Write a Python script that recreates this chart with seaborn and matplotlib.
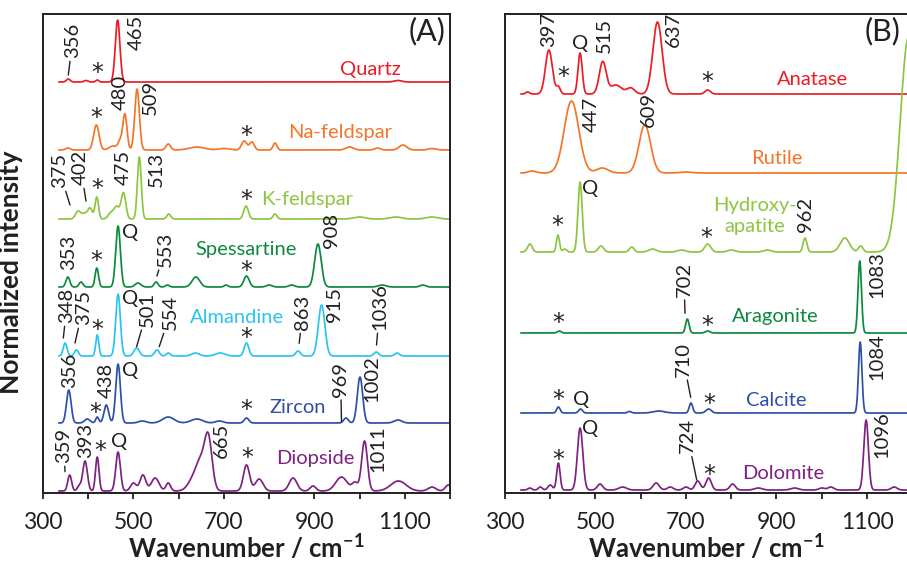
import numpy as np
import pandas as pd
import matplotlib.pyplot as plt
import seaborn as sns
from matplotlib.ticker import MultipleLocator, FixedLocator

# peak tables: (position / cm-1, height, fwhm)
quartz_peaks = [(356, 3, 10), (395, 1.5, 10), (420, 2, 8), (465, 62, 12), (1085, 1.5, 20)]
na_feldspar_peaks = [(355, 2, 12), (418, 25, 14), (455, 4, 20), (470, 8, 10), (481, 36, 11),
                     (508, 61, 12), (577, 6, 12), (640, 3, 40), (700, 1.5, 30), (745, 9, 14),
                     (762, 8, 12), (813, 7, 10), (978, 3, 20), (1040, 2, 15), (1096, 5, 20),
                     (1160, 1.5, 20)]
k_feldspar_peaks = [(378, 8, 14), (392, 5, 12), (404, 11, 12), (419, 22, 9), (450, 6, 14),
                    (463, 12, 14), (478, 26, 12), (513, 62, 10), (578, 5, 10), (749, 13, 12),
                    (813, 5, 10), (1000, 2, 30), (1080, 2, 30), (1160, 2, 30)]
spessartine_peaks = [(355, 10, 10), (384, 5, 10), (419, 19, 9), (466, 61, 12), (510, 4, 15),
                     (550, 5, 10), (575, 2, 10), (638, 10, 20), (705, 2, 10), (750, 11, 14),
                     (800, 2, 15), (850, 2, 15), (908, 43, 17), (1050, 2, 20), (1140, 2, 15)]
almandine_peaks = [(349, 13, 10), (374, 6, 10), (420, 21, 8), (466, 62, 12), (507, 8, 14),
                   (552, 6, 12), (577, 3, 10), (637, 3, 20), (692, 3, 25), (750, 13, 12),
                   (864, 5, 12), (916, 51, 17), (1037, 4, 12), (1083, 3, 12)]
zircon_peaks = [(357, 33, 12), (398, 4, 14), (420, 6, 8), (440, 18, 12), (466, 59, 12),
                (520, 2, 20), (577, 6, 30), (640, 4, 30), (690, 2, 20), (750, 5, 12),
                (970, 5, 12), (1001, 46, 14), (1085, 3, 20)]
diopside_peaks = [(359, 16, 10), (380, 5, 10), (393, 30, 12), (420, 34, 9), (466, 39, 12),
                  (500, 8, 15), (521, 16, 15), (548, 13, 20), (577, 8, 12), (636, 15, 30),
                  (648, 18, 20), (665, 55, 20), (750, 26, 16), (778, 12, 20), (853, 13, 20),
                  (897, 5, 15), (960, 14, 30), (990, 8, 15), (1011, 50, 15), (1086, 10, 40),
                  (1160, 4, 20), (1196, 6, 15)]

anatase_peaks = [(350, 2, 10), (397, 44, 18), (418, 7, 10), (466, 41, 11), (516, 32, 18),
                 (545, 9, 30), (578, 6, 20), (637, 72, 24), (748, 4, 14)]
rutile_peaks = [(360, 2, 20), (447, 72, 38), (515, 5, 30), (609, 48, 30), (700, 1, 30)]
hydroxyapatite_peaks = [(355, 8, 12), (417, 17, 8), (432, 3, 10), (466, 70, 11), (512, 6, 14),
                        (580, 5, 12), (626, 3, 20), (690, 2, 20), (748, 8, 16), (800, 2, 20),
                        (880, 2, 20), (963, 14, 10), (1051, 14, 24), (1086, 6, 12),
                        (1192, 215, 44)]
aragonite_peaks = [(420, 2, 10), (703, 14, 9), (748, 2, 12), (1084, 72, 9)]
calcite_peaks = [(418, 6, 9), (467, 4, 10), (575, 1.5, 10), (640, 2, 30), (711, 10, 9),
                 (750, 4, 14), (1085, 71, 9)]
dolomite_peaks = [(355, 2, 10), (378, 3, 10), (400, 5, 12), (418, 27, 9), (466, 62, 14),
                  (510, 6, 14), (560, 3, 20), (634, 7, 16), (665, 3, 15), (700, 3, 14),
                  (726, 9, 14), (750, 12, 14), (803, 6, 14), (860, 2, 20), (940, 2, 20),
                  (1000, 2, 15), (1020, 3, 15), (1098, 70, 12), (1160, 3, 15)]

names_a = ["Quartz", "Na-feldspar", "K-feldspar", "Spessartine", "Almandine", "Zircon", "Diopside"]
peaks_a = [quartz_peaks, na_feldspar_peaks, k_feldspar_peaks, spessartine_peaks,
           almandine_peaks, zircon_peaks, diopside_peaks]
offsets_a = [411, 343, 274, 206, 137, 70, 2]

names_b = ["Anatase", "Rutile", "Hydroxy-\napatite", "Aragonite", "Calcite", "Dolomite"]
peaks_b = [anatase_peaks, rutile_peaks, hydroxyapatite_peaks, aragonite_peaks,
           calcite_peaks, dolomite_peaks]
offsets_b = [399, 320, 241, 160, 80, 3]

colors_a = ["#ED1C24", "#F47529", "#8DC63F", "#0B8A3E", "#2CC3F2", "#2E4FA6", "#7D2182"]
colors_b = ["#ED1C24", "#F47529", "#8DC63F", "#0B8A3E", "#2E4FA6", "#7D2182"]

tick_labels = [300, 500, 700, 900, 1100]

# peak labels: (text, x, y) rotated
numbers_a = [("465", 505.5, 443), ("480", 471.9, 383), ("509", 536.5, 378), ("475", 476.8, 308),
             ("513", 549.7, 306.3), ("353", 355.9, 223), ("908", 938, 244.7), ("915", 945.3, 171.3),
             ("356", 359.7, 104.7), ("438", 440.8, 94.7), ("1002", 1028.2, 91.3), ("393", 394.6, 34.7),
             ("665", 694.9, 34.7), ("1011", 1041, 21.3)]
leaders_a = [("356", 365.2, 435, 356, 418), ("375", 336, 305, 359.7, 288), ("402", 383.5, 308, 395, 292),
             ("553", 570.7, 226.3, 551.9, 217), ("348", 353, 170, 344.9, 155), ("375", 389, 168, 370.7, 150),
             ("501", 531, 166.3, 507, 146.3), ("554", 582.4, 163, 557, 146.3),
             ("863", 874.6, 163, 866.4, 149.7), ("1036", 1044.8, 163, 1037.5, 148),
             ("969", 958.1, 96.3, 960.1, 71.3), ("359", 346.4, 30, 348.6, 21.3)]
stars_a = [(419.3, 423), (418.7, 378), (750.2, 359.7), (420, 307), (748.6, 296.3), (418.7, 234.7),
           (748.6, 224.7), (420, 166.3), (750.2, 158), (414.9, 83), (750.2, 86.3), (426, 44.7),
           (751.5, 38)]
q_a = [(492.3, 260.3), (492.3, 194.7), (492.3, 122.3), (468.6, 51.3)]
name_pos_a = [(1024.9, 424), (956.4, 361), (884.5, 294), (748.2, 244), (728, 175.5),
              (864.2, 85.5), (901.1, 34.7)]

numbers_b = [("397", 395.7, 446.3), ("515", 518.8, 439.7), ("637", 671.9, 446.3), ("447", 489.6, 361.3),
             ("609", 616.7, 366.3), ("962", 963, 261.3), ("1083", 1122.1, 194.7), ("1084", 1121.5, 113),
             ("1096", 1132.5, 34.7)]
leaders_b = [("702", 695.6, 196.3, 697.8, 179.7), ("710", 694, 116.3, 710.4, 95.7),
             ("724", 703.3, 39.7, 723.7, 13)]
stars_b = [(428.8, 419), (747.1, 413.7), (416.5, 269.7), (745, 258), (417.8, 173), (747.1, 169.7),
           (417.8, 96.3), (751.5, 92), (417.8, 36.3), (751.5, 21.3)]
q_b = [(465.8, 449.7), (487.9, 304.7), (467.3, 93.7), (487.9, 64.7)]
name_pos_b = [(978.5, 414), (901.1, 335), (852, 277), (896.7, 176.3), (900.5, 93), (915.7, 19.7)]


def spectrum(peaks, x):
    y = np.zeros_like(x)
    for c, h, w in peaks:
        y += h * np.exp(-4 * np.log(2) * (x - c) ** 2 / w ** 2)
    return y


wn = np.arange(335, 1201, 1.0)


def make_df(names, peaks, offsets):
    rows = []
    for n, p, off in zip(names, peaks, offsets):
        rows.append(pd.DataFrame({"wn": wn, "y": spectrum(p, wn) + off, "mineral": n}))
    return pd.concat(rows, ignore_index=True)


sns.set_style("ticks")
plt.rcParams["font.family"] = ["Lato", "DejaVu Sans"]
plt.rcParams["mathtext.fontset"] = "custom"
plt.rcParams["mathtext.rm"] = "Lato:bold"
plt.rcParams["mathtext.default"] = "rm"

ink = "#231F20"
fs = 14.5
fig = plt.figure(figsize=(9.07, 5.66), dpi=100)
ax_a = fig.add_axes([43 / 907, 73 / 566, 407 / 907, 479 / 566])
ax_b = fig.add_axes([505 / 907, 73 / 566, 402 / 907, 479 / 566])

panels = [
    (ax_a, names_a, peaks_a, offsets_a, colors_a, numbers_a, leaders_a, stars_a, q_a, name_pos_a, 1200),
    (ax_b, names_b, peaks_b, offsets_b, colors_b, numbers_b, leaders_b, stars_b, q_b, name_pos_b, 1188.4),
]

for ax, names, peaks, offs, cols, nums, leads, stars, qs, npos, xmax in panels:
    df = make_df(names, peaks, offs)
    sns.lineplot(data=df, x="wn", y="y", hue="mineral", palette=dict(zip(names, cols)),
                 legend=False, ax=ax, lw=1.25, estimator=None, sort=False)
    ax.set_xlim(300, xmax)
    ax.set_ylim(0, 479)
    ax.set_yticks([])
    ax.xaxis.set_major_locator(FixedLocator(tick_labels))
    ax.xaxis.set_minor_locator(MultipleLocator(100))
    ax.tick_params(axis="x", which="both", direction="out", length=4.5, width=1.3,
                   labelsize=16.5, colors=ink, pad=9)
    ax.set_xlabel("Wavenumber / cm$^{-1}$", fontsize=18.5, fontweight="bold", color=ink, labelpad=0)
    ax.set_ylabel("")
    for s in ax.spines.values():
        s.set_linewidth(1.4)
        s.set_color(ink)

    for t, x, y in nums:
        ax.text(x, y, t, rotation=90, ha="center", va="bottom", fontsize=fs, color=ink)
    for t, x, y, lx, ly in leads:
        ax.annotate(t, xy=(lx, ly), xytext=(x, y), rotation=90, ha="center", va="bottom",
                    fontsize=fs, color=ink,
                    arrowprops=dict(arrowstyle="-", lw=1.0, color=ink, shrinkA=0, shrinkB=0))
    for x, y in stars:
        ax.text(x, y - 3, "*", ha="center", va="center", fontsize=17, color=ink,
                family="DejaVu Sans")
    for x, y in qs:
        ax.text(x, y, "Q", ha="center", va="center", fontsize=fs, color=ink)
    for n, (x, y), c in zip(names, npos, cols):
        ax.text(x, y, n, ha="center", va="center", fontsize=fs, color=c, linespacing=1.3)

ax_a.text(0.99, 0.995, "(A)", transform=ax_a.transAxes, ha="right", va="top", fontsize=22, color=ink)
ax_b.text(0.94, 0.995, "(B)", transform=ax_b.transAxes, ha="center", va="top", fontsize=22, color=ink)
ax_b.spines["right"].set_visible(False)
ax_a.set_ylabel("Normalized intensity", fontsize=19, fontweight="bold", color=ink)
ax_a.yaxis.set_label_coords(-0.049, 0.46)

fig.savefig("out.png", dpi=100)
